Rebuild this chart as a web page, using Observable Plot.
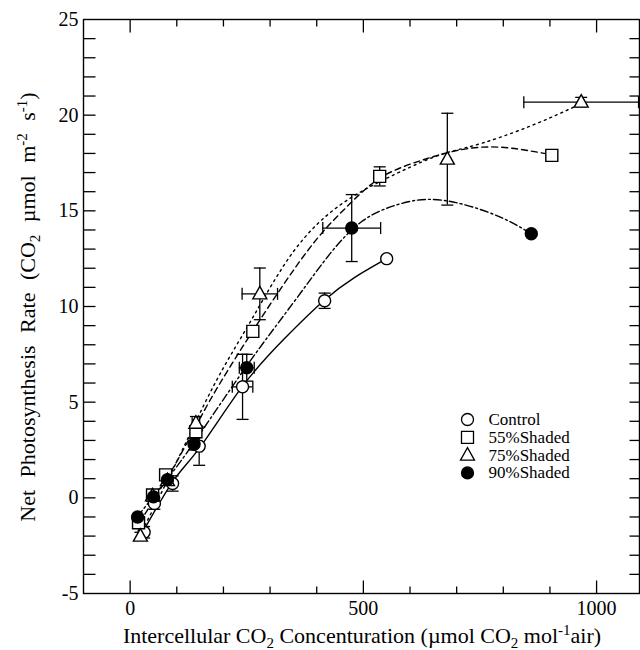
<!DOCTYPE html>
<html><head><meta charset="utf-8">
<script src="https://cdn.jsdelivr.net/npm/d3@7"></script>
<script src="https://cdn.jsdelivr.net/npm/@observablehq/plot@0.6"></script>
<style>
body{margin:0;background:#fff;}
#chart{width:640px;height:650px;}
</style>
</head><body><div id="chart"></div>
<script>
// ---- series names ----
const seriesNames = ["Control", "55%Shaded", "75%Shaded", "90%Shaded"];

// ---- measured points (Ci, A) and error bars ----
const controlX    = [30, 52, 91, 148, 241, 417, 550];
const controlY    = [-1.8, -0.3, 0.75, 2.7, 5.8, 10.3, 12.5];
const controlYErr = [0.3, 0.3, 0.4, 1.0, 1.7, 0.4, 0.1];
const controlXErr = [0, 0, 0, 6, 22, 0, 0];

const shade55X    = [18, 48, 76, 141, 263, 535, 904];
const shade55Y    = [-1.3, 0.15, 1.2, 3.45, 8.7, 16.8, 17.9];
const shade55YErr = [0.2, 0.2, 0.2, 0.3, 0.3, 0.5, 0.1];
const shade55XErr = [0, 0, 6, 0, 0, 0, 0];

const shade75X    = [22, 48, 80, 141, 278, 680, 967];
const shade75Y    = [-2.0, 0.1, 0.9, 3.9, 10.66, 17.7, 20.68];
const shade75YErr = [0.2, 0.2, 0.2, 0.35, 1.35, 2.4, 0.25];
const shade75XErr = [0, 0, 0, 8, 38, 0, 123];

const shade90X    = [16, 50, 80, 137, 250, 475, 860];
const shade90Y    = [-1.0, 0.05, 0.95, 2.8, 6.8, 14.1, 13.8];
const shade90YErr = [0.1, 0.2, 0.2, 0.3, 0.7, 1.75, 0.1];
const shade90XErr = [0, 0, 0, 0, 16, 62, 0];

// ---- fitted response curves ----
const fitControlX = [20, 90, 150, 240, 330, 415, 480, 550];
const fitControlY = [-2.1, 0.8, 2.65, 5.8, 8.3, 10.3, 11.5, 12.5];
const fit55X = [20, 100, 169, 265, 380, 460, 535, 620, 700, 790, 900];
const fit55Y = [-1.3, 1.9, 5.0, 8.8, 12.9, 15.1, 16.7, 17.6, 18.15, 18.33, 17.95];
const fit75X = [20, 100, 180, 260, 351, 450, 550, 650, 720, 794, 880, 967];
const fit75Y = [-2.0, 1.9, 5.9, 9.3, 12.9, 15.3, 16.7, 17.8, 18.3, 18.85, 19.65, 20.6];
const fit90X = [15, 80, 140, 250, 350, 430, 500, 570, 640, 720, 800, 860];
const fit90Y = [-1.0, 1.0, 3.0, 6.9, 10.2, 12.8, 14.5, 15.3, 15.6, 15.3, 14.6, 13.8];

// ---- ticks ----
const xTickLabels = [0, 500, 1000];
const xMinorTicks = [100, 200, 300, 400, 600, 700, 800, 900];
const yTickLabels = [-5, 0, 5, 10, 15, 20, 25];
const yMinorTicks = [-4,-3,-2,-1,0,1,2,3,4,5,6,7,8,9,10,11,12,13,14,15,16,17,18,19,20,21,22,23,24];

const FONT = "'Liberation Serif', 'Times New Roman', serif";

// ---- build tables ----
function rows(name, X, Y, YE, XE) {
  return X.map((x, i) => ({s: name, x, y: Y[i], ye: YE[i], xe: XE[i]}));
}
function fitRows(name, X, Y) { return X.map((x, i) => ({s: name, x, y: Y[i]})); }

const pts = [
  rows("Control", controlX, controlY, controlYErr, controlXErr),
  rows("55%Shaded", shade55X, shade55Y, shade55YErr, shade55XErr),
  rows("75%Shaded", shade75X, shade75Y, shade75YErr, shade75XErr),
  rows("90%Shaded", shade90X, shade90Y, shade90YErr, shade90XErr)
];
const fits = [
  fitRows("Control", fitControlX, fitControlY),
  fitRows("55%Shaded", fit55X, fit55Y),
  fitRows("75%Shaded", fit75X, fit75Y),
  fitRows("90%Shaded", fit90X, fit90Y)
];

// ---- custom symbols (fixed pixel size) ----
const symCircle = {draw(c){ c.moveTo(6,0); c.arc(0,0,6,0,2*Math.PI); c.closePath(); }};
const symSquare = {draw(c){ c.rect(-6,-6,12,12); }};
const symTriangle = {draw(c){ c.moveTo(0,-7.5); c.lineTo(7,5); c.lineTo(-7,5); c.closePath(); }};
const symHCap = {draw(c){ c.moveTo(-6,0); c.lineTo(6,0); }};
const symVCap = {draw(c){ c.moveTo(0,-6); c.lineTo(0,6); }};
const tick = (dx, dy) => ({draw(c){ c.moveTo(0,0); c.lineTo(dx,dy); }});

const symbols = [symCircle, symSquare, symTriangle, symCircle];
const fills = ["white", "white", "white", "black"];
const dashes = [null, "6,4", "2,4", "8,3,2,3"];

const marks = [];
// curves
fits.forEach((f, i) => {
  marks.push(Plot.line(f, {x: "x", y: "y", curve: "natural", stroke: "black", strokeWidth: 1.4,
    strokeDasharray: dashes[i] || undefined}));
});
// error bars
pts.forEach(p => {
  const ve = p.filter(d => d.ye > 0), he = p.filter(d => d.xe > 0);
  marks.push(Plot.ruleX(ve, {x: "x", y1: d => d.y - d.ye, y2: d => d.y + d.ye, stroke: "black", strokeWidth: 1.3}));
  marks.push(Plot.dot(ve, {x: "x", y: d => d.y - d.ye, symbol: symHCap, stroke: "black", fill: "none", strokeWidth: 1.3}));
  marks.push(Plot.dot(ve, {x: "x", y: d => d.y + d.ye, symbol: symHCap, stroke: "black", fill: "none", strokeWidth: 1.3}));
  marks.push(Plot.ruleY(he, {y: "y", x1: d => d.x - d.xe, x2: d => d.x + d.xe, stroke: "black", strokeWidth: 1.3}));
  marks.push(Plot.dot(he, {x: d => d.x - d.xe, y: "y", symbol: symVCap, stroke: "black", fill: "none", strokeWidth: 1.3}));
  marks.push(Plot.dot(he, {x: d => d.x + d.xe, y: "y", symbol: symVCap, stroke: "black", fill: "none", strokeWidth: 1.3}));
});
// markers
pts.forEach((p, i) => {
  marks.push(Plot.dot(p, {x: "x", y: "y", symbol: symbols[i], fill: fills[i], stroke: "black", strokeWidth: 1.4}));
});
// frame & inward ticks
marks.push(Plot.frame({stroke: "black", strokeWidth: 1.4}));
marks.push(Plot.dot(xTickLabels, {x: d => d, y: -5, symbol: tick(0,-13), stroke: "black", fill: "none", strokeWidth: 1.3}));
marks.push(Plot.dot(xTickLabels, {x: d => d, y: 25, symbol: tick(0,13), stroke: "black", fill: "none", strokeWidth: 1.3}));
marks.push(Plot.dot(xMinorTicks, {x: d => d, y: -5, symbol: tick(0,-7), stroke: "black", fill: "none", strokeWidth: 1.3}));
marks.push(Plot.dot(xMinorTicks, {x: d => d, y: 25, symbol: tick(0,7), stroke: "black", fill: "none", strokeWidth: 1.3}));
marks.push(Plot.dot(yMinorTicks, {y: d => d, x: -100, symbol: tick(12,0), stroke: "black", fill: "none", strokeWidth: 1.3}));
marks.push(Plot.dot(yMinorTicks, {y: d => d, x: 1092, symbol: tick(-10,0), stroke: "black", fill: "none", strokeWidth: 1.3}));
// legend
seriesNames.forEach((name, i) => {
  marks.push(Plot.dot([name], {frameAnchor: "top-left", dx: 384, dy: 400 + i * 17.8,
    symbol: symbols[i], fill: fills[i], stroke: "black", strokeWidth: 1.3}));
  marks.push(Plot.text([name], {frameAnchor: "top-left", dx: 405, dy: 400 + i * 17.8,
    text: d => d, textAnchor: "start", lineAnchor: "middle", fontSize: 17, fill: "black"}));
});

const plot = Plot.plot({
  width: 640, height: 650,
  marginLeft: 83, marginRight: 1, marginTop: 19, marginBottom: 57,
  style: {fontSize: "20px", background: "white", color: "black"},
  x: {domain: [-100, 1092], ticks: xTickLabels, tickSize: 0, tickPadding: 7, tickFormat: d => String(d), label: null},
  y: {domain: [-5, 25], ticks: yTickLabels, tickSize: 0, tickPadding: 5, tickFormat: d => String(d), label: null},
  marks
});
document.getElementById("chart").appendChild(plot);

// axis titles with sub/superscripts
const svg = d3.select(plot);
const xt = svg.append("text").attr("x", 362).attr("y", 643).attr("text-anchor", "middle")
  .attr("font-size", 22).attr("fill", "black");
xt.append("tspan").text("Intercellular CO");
xt.append("tspan").attr("dy", 5).attr("font-size", 15).text("2");
xt.append("tspan").attr("dy", -5).text(" Concenturation (µmol CO");
xt.append("tspan").attr("dy", 5).attr("font-size", 15).text("2");
xt.append("tspan").attr("dy", -5).text(" mol");
xt.append("tspan").attr("dy", -8).attr("font-size", 15).text("-1");
xt.append("tspan").attr("dy", 8).text("air)");

const yt = svg.append("text").attr("transform", "translate(35,307) rotate(-90)")
  .attr("text-anchor", "middle").attr("font-size", 22).attr("fill", "black")
  .attr("word-spacing", 7);
yt.append("tspan").text("Net Photosynthesis Rate (CO");
yt.append("tspan").attr("dy", 5).attr("font-size", 15).text("2");
yt.append("tspan").attr("dy", -5).text(" µmol m");
yt.append("tspan").attr("dy", -8).attr("font-size", 15).text("-2");
yt.append("tspan").attr("dy", 8).text(" s");
yt.append("tspan").attr("dy", -8).attr("font-size", 15).text("-1");
yt.append("tspan").attr("dy", 8).text(")");

// serif face on every piece of text
plot.style.fontFamily = FONT;
svg.attr("font-family", FONT);
svg.selectAll("g, text, tspan").each(function () { this.style.fontFamily = FONT; });
</script>
</body></html>
